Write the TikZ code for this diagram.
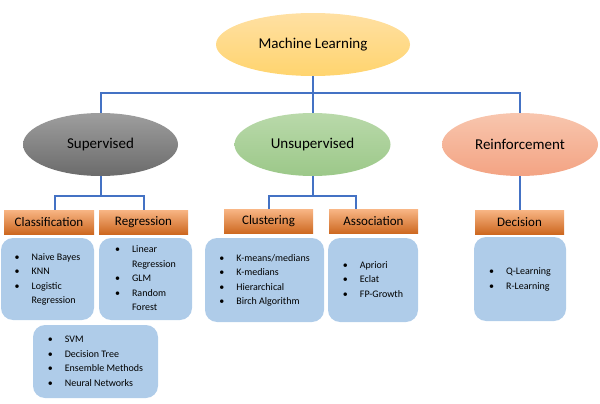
\documentclass[tikz,border=0pt]{standalone}
\usepackage{fontspec}
\setmainfont{Carlito}
\usetikzlibrary{shapes.geometric}
\definecolor{linkblue}{HTML}{4472C4}
\definecolor{mltop}{HTML}{FFE0A3}
\definecolor{mlbot}{HTML}{FFD46E}
\definecolor{suptop}{HTML}{9E9E9E}
\definecolor{supbot}{HTML}{6B6B6B}
\definecolor{unstop}{HTML}{B9D9AA}
\definecolor{unsbot}{HTML}{9CC889}
\definecolor{reintop}{HTML}{F8C6AE}
\definecolor{reinbot}{HTML}{F3A383}
\definecolor{headtop}{HTML}{F8B584}
\definecolor{headbot}{HTML}{CD6820}
\definecolor{listblue}{HTML}{AFCCE9}
\begin{document}
\begin{tikzpicture}[x=1pt, y=-1pt,
  cat/.style={ellipse, minimum width=156pt, minimum height=63pt, inner sep=0pt, font=\fontsize{15}{17}\selectfont},
  head/.style={rectangle, minimum width=89pt, minimum height=24pt, inner sep=0pt, top color=headtop, bottom color=headbot, font=\fontsize{13}{15}\selectfont},
  list/.style={rectangle, rounded corners=12pt, fill=listblue, inner sep=0pt, font=\fontsize{10}{14.5}\selectfont},
  link/.style={linkblue, line width=2pt}]
\useasboundingbox (0,0) rectangle (600,404);

\node[cat, minimum width=194pt, top color=mltop, bottom color=mlbot] (ml) at (313,44.5) {Machine Learning};

\node[cat, minimum width=155pt, top color=suptop, bottom color=supbot] (sup) at (100.5,144.5) {Supervised};
\node[cat, top color=unstop, bottom color=unsbot] (uns) at (312.5,144.5) {Unsupervised};
\node[cat, top color=reintop, bottom color=reinbot] (rein) at (520,144.5) {Reinforcement};

\draw[link] (ml.south) -- ++(0,17) -| (sup.north);
\draw[link] (ml.south) -- ++(0,17) -| (rein.north);
\draw[link] (ml.south) -- (ml.south |- uns.north);

\node[head, minimum width=90pt] (clsh) at (49,222) {Classification};
\node[head] (regh) at (143.5,222) {Regression};
\node[head] (clus) at (268.5,221.5) {Clustering};
\node[head] (asch) at (373.5,221.5) {Association};
\node[head] (dech) at (519.5,222) {Decision};

\draw[link] (sup.south) -- ++(0,20) -| ([xshift=6pt]clsh.north);
\draw[link] (sup.south) -- ++(0,20) -| (regh.north);
\draw[link] (uns.south) -- ++(0,20) -| (clus.north);
\draw[link] (uns.south) -- ++(0,20) -| ([xshift=-18pt]asch.north);
\draw[link] (rein.south) -- (rein.south |- dech.north);

\node[list, minimum width=93pt, minimum height=82pt] (clsl) at (47.5,279) {%
  \begin{tabular}{@{}l@{\hspace{12pt}}l@{}}
  \textbullet & Naive Bayes\\
  \textbullet & KNN\\
  \textbullet & Logistic\\
              & Regression
  \end{tabular}};
\node[list, minimum width=93pt, minimum height=82pt] (regl) at (145.5,279) {%
  \begin{tabular}{@{}l@{\hspace{12pt}}l@{}}
  \textbullet & Linear\\
              & Regression\\
  \textbullet & GLM\\
  \textbullet & Random\\
              & Forest
  \end{tabular}};
\node[list, minimum width=125pt, minimum height=73pt] (svml) at (95.5,361.5) {%
  \begin{tabular}{@{}l@{\hspace{12pt}}l@{}}
  \textbullet & SVM\\
  \textbullet & Decision Tree\\
  \textbullet & Ensemble Methods\\
  \textbullet & Neural Networks
  \end{tabular}};
\node[list, minimum width=119pt, minimum height=84pt] (clul) at (264.5,280) {%
  \begin{tabular}{@{}l@{\hspace{12pt}}l@{}}
  \textbullet & K-means/medians\\
  \textbullet & K-medians\\
  \textbullet & Hierarchical\\
  \textbullet & Birch Algorithm
  \end{tabular}};
\node[list, minimum width=90pt, minimum height=84pt] (ascl) at (373,280) {%
  \begin{tabular}{@{}l@{\hspace{12pt}}l@{}}
  \textbullet & Apriori\\
  \textbullet & Eclat\\
  \textbullet & FP-Growth
  \end{tabular}};
\node[list, minimum width=92pt, minimum height=84pt] (decl) at (520,279) {%
  \begin{tabular}{@{}l@{\hspace{12pt}}l@{}}
  \textbullet & Q-Learning\\
  \textbullet & R-Learning
  \end{tabular}};

\end{tikzpicture}
\end{document}
